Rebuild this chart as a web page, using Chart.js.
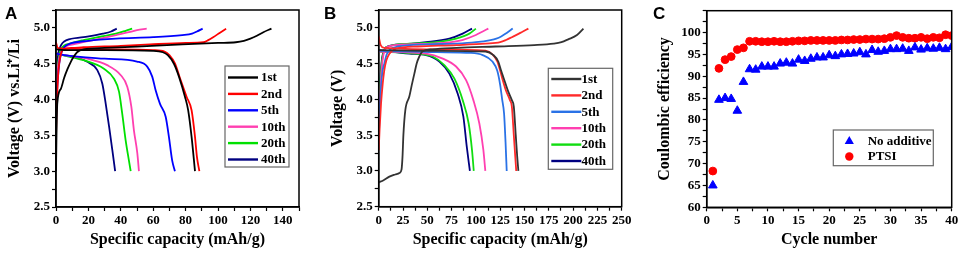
<!DOCTYPE html>
<html>
<head>
<meta charset="utf-8">
<script src="https://cdn.jsdelivr.net/npm/chart.js@4.4.0/dist/chart.umd.min.js"></script>
<style>
  html, body { margin: 0; padding: 0; background: #fff; }
  #wrap { position: relative; width: 963px; height: 254px; overflow: hidden; }
  .panel { position: absolute; top: 0; height: 254px; }
</style>
</head>
<body>
<div id="wrap">
  <div class="panel" style="left:0;width:320px"><canvas id="chartA"></canvas></div>
  <div class="panel" style="left:320px;width:320px"><canvas id="chartB"></canvas></div>
  <div class="panel" style="left:640px;width:323px"><canvas id="chartC"></canvas></div>
</div>
<script>
// cycle names shown in the legends of A and B
const cycleLabels = ['1st', '2nd', '5th', '10th', '20th', '40th'];

// Panel A: [capacity mAh/g, voltage V]
const aCharge1st = [[0,3.0],[0.3,3.5],[0.8,3.95],[3,4.15],[5,4.3],[7,4.42],[9,4.52],[11,4.6],[13,4.66],[17,4.7],[30,4.72],[50,4.74],[78,4.77],[100,4.79],[111,4.8],[116,4.82],[120,4.85],[124,4.89],[128,4.94],[133,4.99]];
const aCharge2nd = [[0,3.45],[0.3,3.8],[0.8,4.1],[1.5,4.4],[2.5,4.58],[4.5,4.7],[10,4.72],[17,4.73],[40,4.75],[58,4.77],[80,4.79],[91,4.8],[94,4.83],[97,4.87],[101,4.93],[105,4.99]];
const aCharge5th = [[0,3.65],[0.3,3.95],[1,4.25],[2,4.5],[3,4.63],[5,4.73],[8.6,4.78],[20,4.82],[37,4.85],[60,4.87],[78,4.9],[84,4.92],[87,4.95],[90.5,4.99]];
const aCharge10th = [[0,3.85],[0.3,4.15],[1,4.4],[2,4.58],[3.5,4.68],[6,4.74],[12.8,4.78],[25,4.84],[37,4.9],[45,4.94],[50,4.97],[56,4.99]];
const aCharge20th = [[0,3.9],[0.3,4.2],[1,4.45],[2,4.62],[3.5,4.72],[8.6,4.78],[17,4.83],[28,4.88],[37,4.92],[43,4.96],[47,4.99]];
const aCharge40th = [[0,3.95],[0.3,4.25],[0.8,4.5],[1.5,4.65],[2.5,4.73],[4,4.79],[6.6,4.83],[17,4.87],[29,4.92],[34,4.95],[37.5,4.99]];

const aDischarge1st = [[0,4.7],[5,4.69],[30,4.69],[60,4.68],[66,4.66],[69,4.62],[72.8,4.5],[75.9,4.32],[79.6,4.04],[81.6,3.85],[83.7,3.48],[85.8,3.0]];
const aDischarge2nd = [[0,4.8],[1,4.72],[5,4.71],[30,4.7],[60,4.69],[67,4.67],[70,4.62],[73.5,4.5],[76.5,4.3],[80.6,4.04],[83.7,3.85],[85.8,3.48],[87,3.2],[88.5,3.0]];
const aDischarge5th = [[0,4.64],[5,4.62],[30,4.57],[50,4.53],[56.3,4.46],[59.4,4.32],[61.5,4.13],[64.2,3.94],[67.7,3.76],[69.7,3.48],[71.7,3.15],[73.4,3.0]];
const aDischarge10th = [[0,4.65],[1,4.64],[19.3,4.57],[31.6,4.48],[40,4.34],[44,4.18],[46.5,3.9],[48.1,3.57],[50.2,3.25],[51.2,3.0]];
const aDischarge20th = [[0,4.65],[1,4.64],[17,4.55],[29.6,4.43],[35.8,4.29],[38.9,4.11],[40.9,3.8],[43,3.43],[45,3.15],[46.1,3.0]];
const aDischarge40th = [[0,4.66],[1,4.64],[11,4.6],[19,4.53],[25.5,4.41],[28.6,4.22],[30.7,3.94],[32.8,3.62],[34.8,3.29],[36.5,3.0]];

// Panel B: [capacity mAh/g, voltage V]
const bCharge1st = [[0,2.84],[5,2.87],[11,2.92],[17,2.95],[21.3,2.97],[23.5,3.02],[24.5,3.2],[25.4,3.5],[27.4,3.85],[31.5,4.04],[34,4.2],[36.7,4.36],[39,4.5],[41.8,4.6],[45,4.67],[55,4.7],[80,4.72],[120,4.74],[160,4.76],[180,4.78],[188,4.8],[195,4.84],[204,4.9],[210.6,4.99]];
const bCharge2nd = [[0,3.29],[1,3.6],[2.4,3.94],[4,4.2],[5.8,4.41],[8,4.55],[11,4.64],[17.8,4.71],[40,4.74],[80,4.76],[110,4.78],[125,4.8],[131,4.83],[137,4.87],[147,4.94],[154,4.99]];
const bCharge5th = [[0,3.43],[1,3.8],[2.4,4.18],[4,4.4],[5.8,4.5],[8,4.62],[11,4.69],[20,4.74],[50,4.77],[80,4.78],[100,4.8],[115,4.83],[121,4.85],[126,4.88],[131.7,4.93],[137.9,4.99]];
const bCharge10th = [[0,3.6],[1,3.95],[2.4,4.3],[4,4.55],[6,4.68],[10,4.74],[30,4.77],[66,4.79],[86,4.83],[100,4.9],[107,4.95],[112.8,4.99]];
const bCharge20th = [[0,3.7],[1,4.05],[2.4,4.4],[4,4.6],[6,4.7],[10,4.74],[31.5,4.78],[59,4.8],[79.6,4.85],[93.3,4.92],[100,4.99]];
const bCharge40th = [[0,3.75],[1,4.1],[2,4.35],[3.5,4.58],[5.5,4.68],[7.5,4.73],[24.7,4.77],[48.7,4.8],[72.7,4.85],[86.4,4.92],[96,4.99]];

const bDischarge1st = [[0,4.69],[60,4.68],[110,4.67],[118,4.62],[123,4.53],[126,4.4],[128.5,4.3],[133,4.12],[137,3.99],[139,3.9],[141,3.5],[142.5,3.2],[143.7,3.0]];
const bDischarge2nd = [[0,4.88],[2,4.76],[6,4.72],[60,4.7],[110,4.68],[117,4.63],[122,4.53],[125,4.4],[127,4.3],[131,4.12],[135,3.99],[137,3.9],[139,3.5],[140.5,3.2],[141.5,3.0]];
const bDischarge5th = [[0,4.68],[60,4.66],[95,4.65],[107,4.62],[117,4.53],[122,4.4],[125,4.2],[127,4.0],[129,3.8],[130.5,3.4],[131.7,3.0]];
const bDischarge10th = [[0,4.67],[48.7,4.64],[65.9,4.57],[79.6,4.46],[89.9,4.27],[97.4,3.99],[103.6,3.66],[107.7,3.29],[109.7,3.0]];
const bDischarge20th = [[0,4.67],[38.4,4.64],[55.6,4.6],[67.5,4.48],[77.9,4.29],[86.4,3.99],[92.6,3.66],[96,3.29],[97.8,3.0]];
const bDischarge40th = [[0,4.69],[31.5,4.64],[48.7,4.62],[62.4,4.53],[72.7,4.36],[81.3,4.08],[87.1,3.76],[90.6,3.34],[93.8,3.0]];

// Panel C
const cycleNumbers = [1,2,3,4,5,6,7,8,9,10,11,12,13,14,15,16,17,18,19,20,21,22,23,24,25,26,27,28,29,30,31,32,33,34,35,36,37,38,39,40];
const noAdditive = [65.0,84.6,85.0,84.8,82.1,88.7,91.6,91.5,92.2,92.2,92.2,92.9,93.1,92.9,93.8,93.5,94.0,94.3,94.3,94.8,94.6,95.0,95.1,95.2,95.5,95.0,96.0,95.6,95.8,96.2,96.2,96.3,95.8,96.6,96.1,96.4,96.3,96.5,96.2,96.7];
const ptsi = [68.3,91.8,93.8,94.5,96.1,96.5,98.0,98.0,97.9,97.9,98.0,97.9,97.9,98.0,98.1,98.1,98.2,98.2,98.2,98.2,98.2,98.3,98.3,98.4,98.4,98.5,98.5,98.5,98.6,98.9,99.3,98.9,98.7,98.7,98.9,98.6,98.9,98.8,99.5,99.3];
const cSeriesLabels = ['No additive', 'PTSI'];

const colorsA = ['#000000', '#ff0000', '#0000ff', '#ff3fb0', '#00e000', '#000080'];
const colorsB = ['#333333', '#ff2a2a', '#2a72e6', '#ff3fb0', '#11dd11', '#000080'];

const serif = "'Liberation Serif', 'Times New Roman', serif";
const tickFont = { family: serif, size: 13, weight: 'bold' };
const titleFont = { family: serif, size: 16, weight: 'bold' };

function toPoints(pairs) {
  return pairs.map(p => ({ x: p[0], y: p[1] }));
}

function curveDatasets(charges, discharges, colors) {
  const sets = [];
  charges.forEach((c, i) => {
    [c, discharges[i]].forEach(curve => {
      sets.push({
        label: cycleLabels[i],
        data: toPoints(curve),
        borderColor: colors[i],
        backgroundColor: colors[i],
        borderWidth: 1.8,
        pointRadius: 0,
        cubicInterpolationMode: 'monotone',
        fill: false
      });
    });
  });
  return sets;
}

// frame around the plot area plus the panel letter
const framePlugin = {
  id: 'frame',
  afterDraw(chart, args, opts) {
    const { ctx, chartArea: a } = chart;
    ctx.save();
    ctx.strokeStyle = '#000';
    ctx.lineWidth = 1.5;
    ctx.strokeRect(a.left, a.top, a.right - a.left, a.bottom - a.top);
    ctx.fillStyle = '#000';
    ctx.font = "bold 17px 'Liberation Sans', Arial, sans-serif";
    ctx.textBaseline = 'alphabetic';
    ctx.fillText(opts.letter, opts.lx, 19);
    ctx.restore();
  }
};

// boxed legend inside the plot
const boxLegend = {
  id: 'boxLegend',
  afterDatasetsDraw(chart, args, o) {
    const ctx = chart.ctx;
    ctx.save();
    ctx.fillStyle = '#fff';
    ctx.fillRect(o.x, o.y, o.w, o.h);
    ctx.strokeStyle = '#666';
    ctx.lineWidth = 1.2;
    ctx.strokeRect(o.x, o.y, o.w, o.h);
    ctx.font = "bold 13px " + serif;
    ctx.textBaseline = 'middle';
    o.labels.forEach((lab, i) => {
      const y = o.y0 + i * o.dy;
      const col = o.colors[i];
      if (o.kind === 'line') {
        ctx.strokeStyle = col;
        ctx.lineWidth = 2.4;
        ctx.beginPath();
        ctx.moveTo(o.x + 3, y);
        ctx.lineTo(o.x + 33, y);
        ctx.stroke();
      } else {
        ctx.fillStyle = col;
        ctx.beginPath();
        const mx = o.x + 16;
        if (o.kind[i] === 'triangle') {
          ctx.moveTo(mx, y - 5);
          ctx.lineTo(mx + 4.6, y + 3);
          ctx.lineTo(mx - 4.6, y + 3);
          ctx.closePath();
        } else {
          ctx.arc(mx, y, 4.2, 0, Math.PI * 2);
        }
        ctx.fill();
      }
      ctx.fillStyle = '#000';
      ctx.fillText(lab, o.tx, y + 0.5);
    });
    ctx.restore();
  }
};

function xAxis(min, max, step, labelEvery, labelMax, title, h) {
  return {
    type: 'linear', min: min, max: max,
    afterFit: s => { s.height = h; },
    border: { color: '#000', width: 1.5 },
    grid: { drawOnChartArea: false, tickLength: 4, tickColor: '#000', tickWidth: 1.2 },
    ticks: {
      stepSize: step, autoSkip: false, maxRotation: 0, padding: 2, color: '#000', font: tickFont,
      callback: v => (Math.abs(v / labelEvery - Math.round(v / labelEvery)) < 1e-6 && v <= labelMax) ? v : ''
    },
    title: { display: true, text: title, color: '#000', font: titleFont, padding: { top: 0, bottom: 5 } }
  };
}

function yAxis(min, max, step, labelEvery, digits, title, w, titlePad) {
  return {
    min: min, max: max,
    afterFit: s => { s.width = w; },
    border: { color: '#000', width: 1.5 },
    grid: { drawOnChartArea: false, tickLength: 4, tickColor: '#000', tickWidth: 1.2 },
    ticks: {
      stepSize: step, autoSkip: false, padding: 2, color: '#000', font: tickFont,
      callback: v => (Math.abs(v / labelEvery - Math.round(v / labelEvery)) < 1e-6 && v <= max - step / 2) ? v.toFixed(digits) : ''
    },
    title: { display: true, text: title, color: '#000', font: titleFont, padding: { top: titlePad, bottom: 0 } }
  };
}

const baseOpts = {
  responsive: true,
  maintainAspectRatio: false,
  animation: false,
  events: []
};

new Chart(document.getElementById('chartA'), {
  type: 'line',
  data: {
    datasets: curveDatasets(
      [aCharge1st, aCharge2nd, aCharge5th, aCharge10th, aCharge20th, aCharge40th],
      [aDischarge1st, aDischarge2nd, aDischarge5th, aDischarge10th, aDischarge20th, aDischarge40th],
      colorsA)
  },
  options: Object.assign({}, baseOpts, {
    layout: { padding: { top: 10, right: 21, left: 0, bottom: 0 } },
    scales: {
      x: xAxis(0, 150, 10, 20, 140, 'Specific capacity (mAh/g)', 47),
      y: yAxis(2.5, 5.25, 0.25, 0.5, 1, 'Voltage (V) vs.Li\u207A/Li', 56, 5)
    },
    plugins: {
      legend: { display: false },
      tooltip: { enabled: false },
      frame: { letter: 'A', lx: 5 },
      boxLegend: { kind: 'line', labels: cycleLabels, colors: colorsA, x: 225, y: 66, w: 64, h: 101, y0: 77.5, dy: 16.4, tx: 261 }
    }
  }),
  plugins: [framePlugin, boxLegend]
});

new Chart(document.getElementById('chartB'), {
  type: 'line',
  data: {
    datasets: curveDatasets(
      [bCharge1st, bCharge2nd, bCharge5th, bCharge10th, bCharge20th, bCharge40th],
      [bDischarge1st, bDischarge2nd, bDischarge5th, bDischarge10th, bDischarge20th, bDischarge40th],
      colorsB)
  },
  options: Object.assign({}, baseOpts, {
    layout: { padding: { top: 10, right: 18.3, left: 0, bottom: 0 } },
    scales: {
      x: xAxis(0, 250, 12.5, 25, 250, 'Specific capacity (mAh/g)', 47.3),
      y: yAxis(2.5, 5.25, 0.25, 0.5, 1, 'Voltage (V)', 58.7, 8)
    },
    plugins: {
      legend: { display: false },
      tooltip: { enabled: false },
      frame: { letter: 'B', lx: 4 },
      boxLegend: { kind: 'line', labels: cycleLabels, colors: colorsB, x: 228.3, y: 68.3, w: 64.4, h: 101, y0: 79, dy: 16.4, tx: 261.5 }
    }
  }),
  plugins: [framePlugin, boxLegend]
});

new Chart(document.getElementById('chartC'), {
  type: 'scatter',
  data: {
    datasets: [
      {
        label: cSeriesLabels[0],
        data: cycleNumbers.map((c, i) => ({ x: c, y: noAdditive[i] })),
        pointStyle: 'triangle',
        pointRadius: 5,
        backgroundColor: '#0000ff',
        borderColor: '#0000ff',
        borderWidth: 1
      },
      {
        label: cSeriesLabels[1],
        data: cycleNumbers.map((c, i) => ({ x: c, y: ptsi[i] })),
        pointStyle: 'circle',
        pointRadius: 3.9,
        backgroundColor: '#ff0000',
        borderColor: '#ff0000',
        borderWidth: 1
      }
    ]
  },
  options: Object.assign({}, baseOpts, {
    layout: { padding: { top: 10.7, right: 11.3, left: 0, bottom: 0 } },
    scales: {
      x: xAxis(0, 40, 2.5, 5, 40, 'Cycle number', 46.7),
      y: yAxis(60, 105, 2.5, 5, 0, 'Coulombic efficiency', 66.7, 15)
    },
    plugins: {
      legend: { display: false },
      tooltip: { enabled: false },
      frame: { letter: 'C', lx: 13 },
      boxLegend: { kind: ['triangle', 'circle'], labels: cSeriesLabels, colors: ['#0000ff', '#ff0000'], x: 193.3, y: 130, w: 100, h: 35.7, y0: 141, dy: 15.5, tx: 227.7 }
    }
  }),
  plugins: [framePlugin, boxLegend]
});
</script>
</body>
</html>
